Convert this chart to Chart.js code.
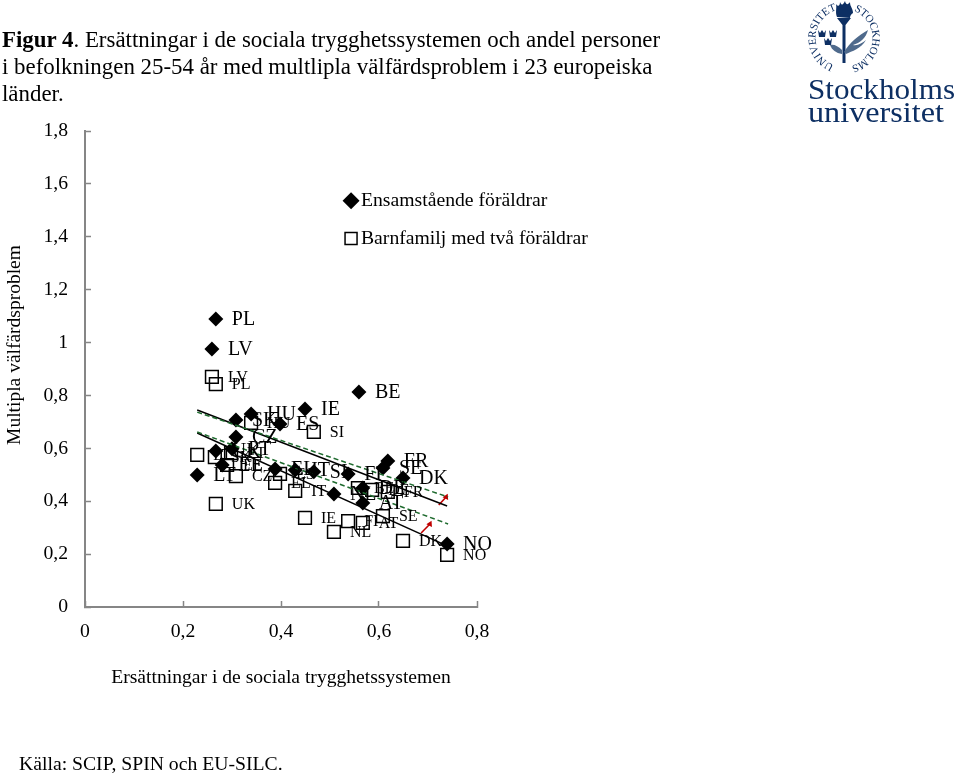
<!DOCTYPE html>
<html lang="sv">
<head>
<meta charset="utf-8">
<title>Figur 4</title>
<script src="https://cdn.jsdelivr.net/npm/chart.js@4/dist/chart.umd.min.js"></script>
<style>
html,body{margin:0;padding:0;background:#fff;width:960px;height:775px;overflow:hidden;font-family:"Liberation Serif",serif;color:#000}
#wrap{position:absolute;left:0;top:0;width:960px;height:775px}
#chart{position:absolute;left:0;top:0}
#head{position:absolute;left:2px;top:26px;width:700px;font-size:22.9px;line-height:27px}
#source{position:absolute;left:19px;top:752px;font-size:19.7px;line-height:22px;white-space:nowrap}
#logo{position:absolute;left:790px;top:0}
</style>
</head>
<body>
<div id="wrap">
<canvas id="chart" width="960" height="775"></canvas>
<div id="head"><b>Figur 4</b>. Ersättningar i de sociala trygghetssystemen och andel personer<br>i befolkningen 25-54 år med multlipla välfärdsproblem i 23 europeiska<br>länder.</div>
<div id="source">Källa: SCIP, SPIN och EU-SILC.</div>
<svg id="logo" width="170" height="130" viewBox="0 0 170 130">
  <defs>
    <path id="arcR" d="M 64 11 A 29 29 0 0 1 64 65"/>
    <path id="arcL" d="M 44 65 A 29 29 0 0 1 44 11"/>
  </defs>
  <g fill="#0d2f63" font-family="Liberation Serif">
    <text font-size="11"><textPath href="#arcR" textLength="72" lengthAdjust="spacing">STOCKHOLMS</textPath></text>
    <text font-size="11"><textPath href="#arcL" textLength="72" lengthAdjust="spacing">UNIVERSITET</textPath></text>
    <path d="M47 17 C45 12 47 8 46 4 C48 7 50 6 50 2 C52 6 53 5 55 1 C56 5 58 5 60 2 C60 7 63 8 63 13 C61 14 60 16 60 18 Z"/>
    <path d="M47 18 L61 18 L55.5 25 L55.5 63 L52.5 63 L52.5 25 Z"/>
    <path d="M28 30 l2 3 l2 -3 l2 3 l2 -3 l-1 7 l-6 0 Z M39 30 l2 3 l2 -3 l2 3 l2 -3 l-1 7 l-6 0 Z M34 38 l2 3 l2 -3 l2 3 l2 -3 l-1 7 l-6 0 Z"/>
    <path d="M54 52 C60 42 68 36 78 30 C76 38 70 43 63 45 C68 46 72 43 76 40 C71 49 62 51 56 54 Z" fill="#4f6a8c"/>
    <path d="M52 50 C48 46 44 44 40 45 C42 50 46 53 52 54 Z" fill="#4f6a8c"/>
    <text x="18" y="99" font-size="29.5" textLength="147" lengthAdjust="spacingAndGlyphs">Stockholms</text>
    <text x="18" y="122" font-size="29.5" textLength="136" lengthAdjust="spacingAndGlyphs">universitet</text>
  </g>
</svg>
</div>
<script>
const countries = ["PL","LV","BE","IE","SK","HU","ES","CZ","UK","PT","EE","LT","EL","IT","SI","NL","FI","FR","SE","DK","DE","AT","NO"];
const singleX = [0.267,0.259,0.559,0.449,0.308,0.339,0.398,0.308,0.267,0.300,0.280,0.229,0.388,0.429,0.467,0.508,0.537,0.618,0.608,0.649,0.567,0.567,0.739];
const singleY = [1.089,0.976,0.813,0.749,0.707,0.730,0.692,0.643,0.590,0.598,0.537,0.499,0.522,0.518,0.511,0.427,0.503,0.552,0.526,0.488,0.450,0.393,0.238];
const coupleX = [0.267,0.259,0.557,0.449,0.265,0.339,0.398,0.308,0.267,0.298,0.290,0.229,0.388,0.429,0.467,0.508,0.537,0.618,0.608,0.649,0.586,0.567,0.739];
const coupleY = [0.843,0.870,0.450,0.337,0.567,0.696,0.503,0.495,0.390,0.582,0.537,0.575,0.469,0.439,0.662,0.284,0.325,0.435,0.344,0.250,0.443,0.318,0.197];
const trendTop = [[0.229,0.745],[0.739,0.382]];
const trendBottom = [[0.229,0.658],[0.739,0.231]];
const greenTop = [[0.229,0.737],[0.741,0.416]];
const greenBottom = [[0.229,0.662],[0.741,0.314]];
const arrowTop = [[0.722,0.386],[0.737,0.416]];
const arrowBottom = [[0.686,0.280],[0.704,0.314]];
const seriesNames = ["Ensamstående föräldrar","Barnfamilj med två föräldrar"];
const xTitle = "Ersättningar i de sociala trygghetssystemen";
const yTitle = "Multipla välfärdsproblem";

const FONT = '"Liberation Serif"';
const AXIS = "#868686";
const toPts = (xs, ys) => xs.map((x, i) => ({x, y: ys[i]}));
const toLine = a => a.map(p => ({x: p[0], y: p[1]}));
const lineDs = (data, color, dash, width) => ({type:"scatter", showLine:true, data:toLine(data), borderColor:color, borderWidth:width, borderDash:dash, pointRadius:0, fill:false});
const arrowDs = data => ({type:"scatter", showLine:true, data:toLine(data), borderColor:"#c00000", borderWidth:1.6, backgroundColor:"#c00000",
  pointBorderColor:"#c00000", pointStyle:"triangle", pointRadius:[0,3.6], pointRotation:[0,26], pointBorderWidth:0});

const labelPlugin = {
  id:"countryLabels",
  afterDatasetsDraw(chart){
    const c = chart.ctx;
    c.save(); c.fillStyle = "#000"; c.textAlign = "left"; c.textBaseline = "middle";
    chart.data.datasets.forEach((ds, i) => {
      if(!ds.pointLabels) return;
      c.font = ds.labelSize + "px " + FONT;
      chart.getDatasetMeta(i).data.forEach((pt, j) => c.fillText(ds.pointLabels[j], pt.x + 16, pt.y + 1));
    });
    c.restore();
  }
};
const yTitlePlugin = {
  id:"yTitle",
  afterDraw(chart){
    const c = chart.ctx;
    c.save(); c.translate(15, 345); c.rotate(-Math.PI/2);
    c.font = "19.5px " + FONT; c.fillStyle = "#000"; c.textAlign = "center"; c.textBaseline = "middle";
    c.fillText(yTitle, 0, 0); c.restore();
  }
};
const legendPlace = {
  id:"legendPlace",
  afterLayout(chart){
    const l = chart.legend;
    const w = l.width, h = l.height;
    l.left = 333; l.right = 333 + w; l.top = 173; l.bottom = 173 + h;
  }
};

new Chart(document.getElementById("chart"), {
  type:"scatter",
  plugins:[labelPlugin, yTitlePlugin, legendPlace],
  data:{datasets:[
    lineDs(greenTop,"#1f6b2f",[5,3],1.5),
    lineDs(greenBottom,"#1f6b2f",[5,3],1.5),
    lineDs(trendTop,"#000",[],1.4),
    lineDs(trendBottom,"#000",[],1.4),
    arrowDs(arrowTop),
    arrowDs(arrowBottom),
    {label:seriesNames[1], data:toPts(coupleX,coupleY), pointLabels:countries, labelSize:16, pointStyle:"rect", pointRadius:9, pointHoverRadius:9, pointBorderColor:"#000", pointBorderWidth:1.5, pointBackgroundColor:"rgba(0,0,0,0)", backgroundColor:"rgba(0,0,0,0)", borderColor:"#000", showLine:false},
    {label:seriesNames[0], data:toPts(singleX,singleY), pointLabels:countries, labelSize:20, pointStyle:"rectRot", pointRadius:7.5, pointHoverRadius:7.5, pointBorderWidth:0, pointBackgroundColor:"#000", backgroundColor:"#000", borderColor:"#000", showLine:false}
  ]},
  options:{
    responsive:false, animation:false, devicePixelRatio:1,
    layout:{autoPadding:false, padding:{left:0, top:131, right:483, bottom:85}},
    plugins:{
      tooltip:{enabled:false},
      title:{display:false},
      legend:{
        display:true, position:"chartArea", align:"start", reverse:true,
        labels:{usePointStyle:true, boxWidth:0.1, boxHeight:12, padding:18, color:"#000",
          font:{family:FONT,size:19.7},
          filter:item => seriesNames.includes(item.text)}
      }
    },
    scales:{
      x:{type:"linear", min:0, max:0.8,
        ticks:{stepSize:0.2, padding:19, color:"#000", font:{family:FONT,size:19.7}, maxRotation:0,
          callback:v => String(Math.round(v*10)/10).replace(".",",")},
        grid:{drawOnChartArea:false, tickLength:-6, tickColor:AXIS, tickWidth:1.5},
        border:{color:AXIS, width:2},
        title:{display:true, text:xTitle, color:"#000", font:{family:FONT,size:19.6}, padding:{top:0,bottom:0}},
        afterFit(s){ s.height = 83; }
      },
      y:{type:"linear", min:0, max:1.8,
        ticks:{stepSize:0.2, padding:23, color:"#000", font:{family:FONT,size:19.7},
          callback:v => String(Math.round(v*10)/10).replace(".",",")},
        grid:{drawOnChartArea:false, tickLength:-6, tickColor:AXIS, tickWidth:1.5},
        border:{color:AXIS, width:2},
        afterFit(s){ s.width = 85; }
      }
    }
  }
});
</script>
</body>
</html>
